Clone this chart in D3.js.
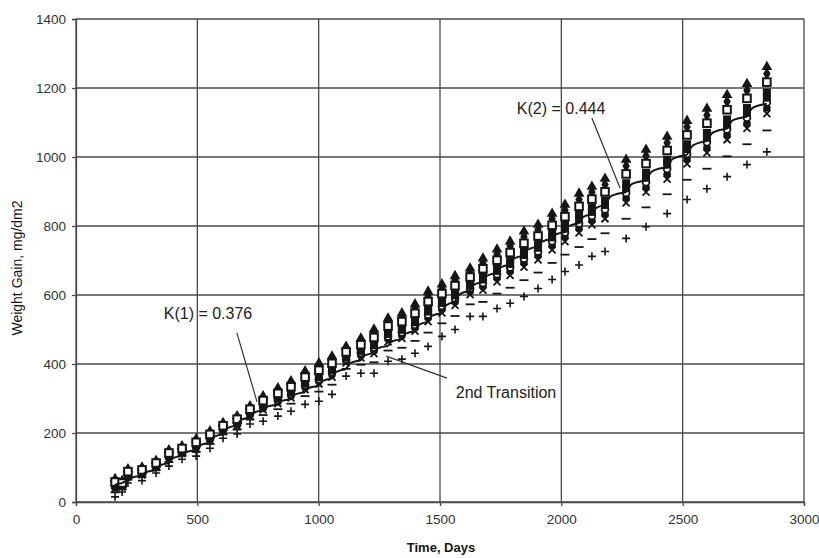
<!DOCTYPE html>
<html>
<head>
<meta charset="utf-8">
<script src="https://cdn.jsdelivr.net/npm/d3@7"></script>
<style>
  html, body { margin: 0; padding: 0; background: #fff; }
  svg { display: block; }
  text { font-family: Arial, "Liberation Sans", sans-serif; }
</style>
</head>
<body>
<svg id="chart" width="819" height="558"></svg>
<script>
// ---------------- DATA ----------------
const xTicks = [0, 500, 1000, 1500, 2000, 2500, 3000];
const yTicks = [0, 200, 400, 600, 800, 1000, 1200, 1400];

const times = [161,190,214,272,330,383,437,495,552,606,664,717,771,832,886,944,1001,1055,1113,1174,1228,1286,1343,1397,1451,1508,1562,1624,1677,1735,1789,1846,1904,1962,2015,2073,2126,2180,2267,2349,2436,2518,2600,2683,2765,2847];

const sTriangle = [67,61,95,100,119,150,162,182,205,229,249,278,307,330,350,379,402,422,450,474,500,532,547,573,610,631,655,677,706,732,755,784,804,836,862,894,914,937,992,1021,1059,1105,1140,1180,1212,1261];
const sDiamond = [63,58,92,97,116,146,159,178,201,225,245,274,301,324,343,371,393,413,443,466,490,522,536,562,597,619,643,666,693,718,741,769,789,821,846,877,898,920,974,1003,1041,1087,1121,1161,1193,1241];
const sSquareOpen = [58,55,88,93,113,142,155,173,196,221,240,269,294,315,334,362,382,402,435,456,477,510,523,547,581,604,627,652,676,701,723,750,771,802,827,857,878,899,951,981,1019,1064,1098,1137,1170,1217];
const sSquareFilled = [51,51,83,89,109,136,151,167,190,216,233,262,285,306,324,350,369,389,425,444,462,495,507,530,562,586,609,635,656,681,701,728,749,779,804,832,853,874,924,954,992,1037,1070,1109,1142,1187];
const sSquareFilled2 = [48,50,80,86,106,133,148,164,187,213,230,259,280,301,318,344,362,382,419,438,454,487,499,521,552,577,599,627,645,670,690,716,737,767,792,819,841,861,910,940,978,1023,1056,1094,1128,1172];
const sCircle = [45,48,78,84,104,131,146,161,184,211,227,256,276,296,313,339,356,376,414,432,447,480,491,513,543,568,590,619,635,660,680,705,726,756,781,807,829,848,896,927,965,1009,1043,1080,1114,1158];
const sCircleFilled = [41,45,75,81,102,128,143,158,181,208,223,252,271,290,307,332,349,369,408,425,438,472,482,504,533,558,580,610,624,649,668,693,714,743,768,793,816,834,881,912,950,994,1027,1065,1098,1142];
const sCross = [38,43,73,79,100,125,141,155,178,205,220,249,267,285,302,326,342,362,403,418,430,464,474,495,523,548,570,601,614,638,657,681,702,731,755,780,803,821,867,898,936,980,1012,1050,1083,1126];
const sDash = [28,37,65,72,93,116,134,145,168,196,210,239,252,269,285,307,320,340,386,398,405,439,447,467,491,518,539,573,580,604,621,643,665,693,717,739,762,779,821,854,892,934,966,1002,1037,1077];
const sPlus = [15,29,55,62,84,104,124,133,156,185,197,226,234,249,263,283,292,312,365,373,373,408,414,431,451,480,500,538,538,561,576,596,619,645,668,687,712,726,764,798,836,877,908,943,978,1015];

// fitted (model) curve: value at each inspection and the knee value of each cycle
const fitAtColumn = [48,54,60,76,92,112,133,150,172,196,222,245,265,282,298,318,336,358,385,410,431,452,472,495,522,547,580,612,638,664,688,714,740,762,782,808,834,860,898,932,970,1006,1046,1082,1117,1154];
const fitKnee = [52,58,71,87,106,127,145,165,189,214,238,259,277,293,312,331,351,377,403,425,446,466,488,514,540,570,602,630,656,681,706,732,755,776,800,826,852,887,922,959,995,1034,1071,1107,1143];

// annotations: [label, textT, textV, arrowFromT, arrowFromV, arrowToT, arrowToV]
const annotations = [
  ["K(1) = 0.376", 544, 548, 663, 490, 746, 290],
  ["K(2) = 0.444", 1999, 1142, 2126, 1113, 2242, 910],
  ["2nd Transition", 1772, 319, 1529, 359, 1278, 423]
];

// ---------------- CHART ----------------
const svg = d3.select("#chart");
const x = d3.scaleLinear().domain([0, 3000]).range([76, 804]);
const y = d3.scaleLinear().domain([0, 1400]).range([502, 19]);
const ink = "#161616";
const gridCol = "#4a4a4a";

// gridlines
svg.append("g").selectAll("line").data(xTicks).enter().append("line")
  .attr("x1", d => x(d)).attr("x2", d => x(d))
  .attr("y1", y(0)).attr("y2", y(1400))
  .attr("stroke", gridCol).attr("stroke-width", 1.3);
svg.append("g").selectAll("line").data(yTicks).enter().append("line")
  .attr("x1", x(0)).attr("x2", x(3000))
  .attr("y1", d => y(d)).attr("y2", d => y(d))
  .attr("stroke", gridCol).attr("stroke-width", 1.3);

// axes
const xAxis = d3.axisBottom(x).tickValues(xTicks).tickSize(4).tickPadding(8).tickFormat(d3.format("d"));
const yAxis = d3.axisLeft(y).tickValues(yTicks).tickSize(4).tickPadding(6).tickFormat(d3.format("d"));
const gx = svg.append("g").attr("transform", `translate(0,${y(0)})`).call(xAxis);
const gy = svg.append("g").attr("transform", `translate(${x(0)},0)`).call(yAxis);
[gx, gy].forEach(g => {
  g.select(".domain").attr("stroke", gridCol).attr("stroke-width", 1.3);
  g.selectAll(".tick line").attr("stroke", gridCol).attr("stroke-width", 1.3);
  g.selectAll(".tick text").attr("fill", "#333").attr("font-size", "13.5px")
    .attr("font-family", "Arial, 'Liberation Sans', sans-serif");
});

// axis titles
svg.append("text").attr("x", 441).attr("y", 552).attr("text-anchor", "middle")
  .attr("font-size", "13px").attr("font-weight", "bold").attr("fill", ink)
  .text("Time, Days");
svg.append("text").attr("transform", "translate(22,268) rotate(-90)")
  .attr("text-anchor", "middle").attr("font-size", "14px").attr("fill", ink)
  .text("Weight Gain, mg/dm2");

// markers
const plot = svg.append("g");
function drawSeries(values, kind) {
  const g = plot.append("g");
  values.forEach((v, i) => {
    const cx = x(times[i]), cy = y(v);
    if (kind === "triangle") {
      g.append("path").attr("d", d3.symbol(d3.symbolTriangle, 50)())
        .attr("transform", `translate(${cx},${cy})`).attr("fill", ink);
    } else if (kind === "diamond") {
      g.append("path").attr("d", d3.symbol(d3.symbolDiamond, 48)())
        .attr("transform", `translate(${cx},${cy})`).attr("fill", ink);
    } else if (kind === "squareOpen") {
      g.append("rect").attr("x", cx - 3.8).attr("y", cy - 3.8).attr("width", 7.6).attr("height", 7.6)
        .attr("fill", "#fff").attr("stroke", ink).attr("stroke-width", 2);
    } else if (kind === "squareFilled") {
      g.append("rect").attr("x", cx - 4).attr("y", cy - 4).attr("width", 8).attr("height", 8)
        .attr("fill", ink);
    } else if (kind === "circle") {
      g.append("circle").attr("cx", cx).attr("cy", cy).attr("r", 3.4)
        .attr("fill", "#fff").attr("stroke", ink).attr("stroke-width", 1.8);
    } else if (kind === "circleFilled") {
      g.append("circle").attr("cx", cx).attr("cy", cy).attr("r", 3.8).attr("fill", ink);
    } else if (kind === "cross") {
      g.append("path").attr("d", `M${cx-3.5},${cy-3.5}L${cx+3.5},${cy+3.5}M${cx-3.5},${cy+3.5}L${cx+3.5},${cy-3.5}`)
        .attr("stroke", ink).attr("stroke-width", 1.8);
    } else if (kind === "dash") {
      g.append("path").attr("d", `M${cx-4.5},${cy}L${cx+4.5},${cy}`)
        .attr("stroke", ink).attr("stroke-width", 1.8);
    } else if (kind === "plus") {
      g.append("path").attr("d", `M${cx-4},${cy}L${cx+4},${cy}M${cx},${cy-4}L${cx},${cy+4}`)
        .attr("stroke", ink).attr("stroke-width", 1.6);
    }
  });
}
drawSeries(sPlus, "plus");
drawSeries(sDash, "dash");
drawSeries(sCross, "cross");
drawSeries(sCircleFilled, "circleFilled");
drawSeries(sCircle, "circle");
drawSeries(sSquareFilled2, "squareFilled");
drawSeries(sSquareFilled, "squareFilled");
drawSeries(sDiamond, "diamond");
drawSeries(sTriangle, "triangle");
drawSeries(sSquareOpen, "squareOpen");

// fitted cyclic curve (one arc per cycle)
const fitLine = d3.line().x(d => x(d[0])).y(d => y(d[1])).curve(d3.curveMonotoneX);
const fitG = svg.append("g");
for (let i = 0; i < times.length - 1; i++) {
  const t0 = times[i], t1 = times[i + 1];
  const seg = [[t0, fitAtColumn[i]], [t0 + 0.3 * (t1 - t0), fitKnee[i]], [t1, fitAtColumn[i + 1]]];
  fitG.append("path").attr("d", fitLine(seg)).attr("fill", "none")
    .attr("stroke", ink).attr("stroke-width", 2).attr("stroke-linejoin", "round");
}

// annotations
const annG = svg.append("g");
annotations.forEach(([label, tt, tv, ft, fv, at, av]) => {
  annG.append("text").attr("x", x(tt)).attr("y", y(tv)).attr("dy", "0.35em")
    .attr("text-anchor", "middle").attr("font-size", "16px").attr("fill", "#222").text(label);
  annG.append("line").attr("x1", x(ft)).attr("y1", y(fv)).attr("x2", x(at)).attr("y2", y(av))
    .attr("stroke", "#333").attr("stroke-width", 1.2);
});
</script>
</body>
</html>
